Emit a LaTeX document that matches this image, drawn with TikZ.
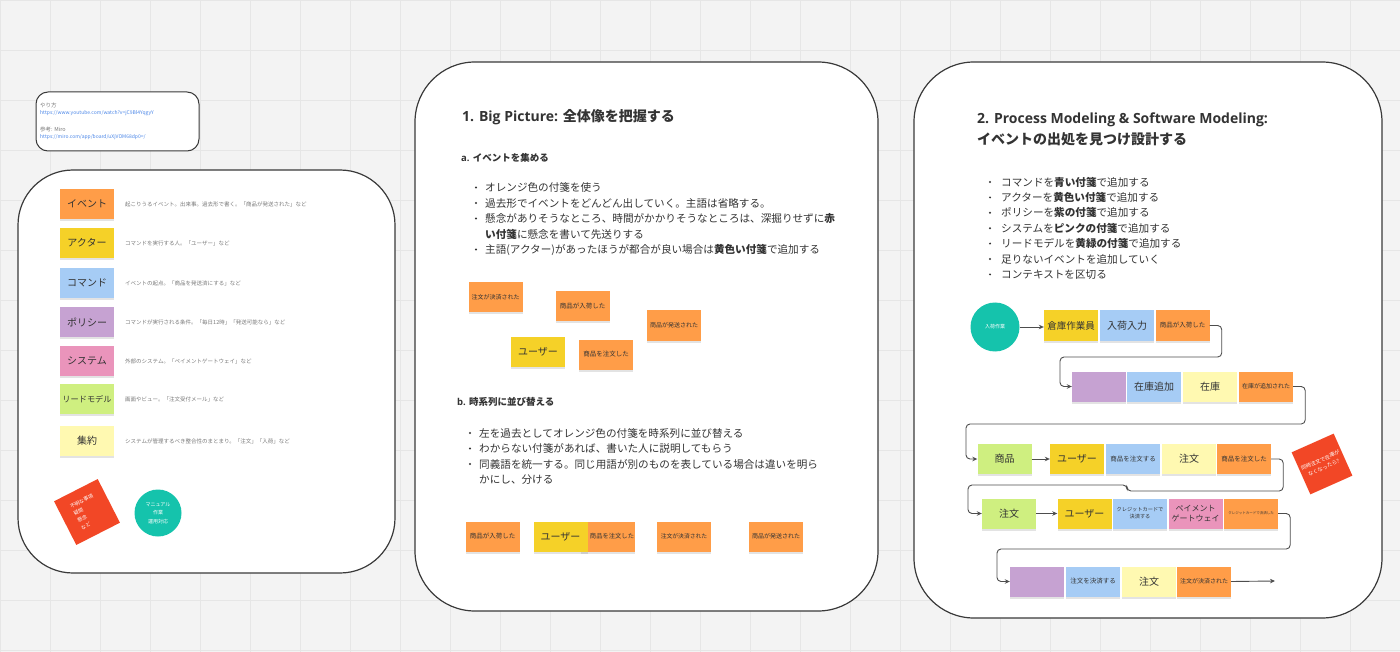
\documentclass[tikz,border=0pt]{standalone}
\usepackage{fontspec}
\setmainfont{Noto Sans CJK JP}
\newfontfamily\osfont{Open Sans}
\usetikzlibrary{arrows.meta,shadows}
\newcommand\fsz[2]{\fontsize{#1}{#2}\selectfont}
\definecolor{bgc}{HTML}{F3F3F3}
\definecolor{gridc}{HTML}{E6E6E6}
\definecolor{panelb}{HTML}{3A3A3A}
\definecolor{txt}{HTML}{333333}
\definecolor{desc}{HTML}{7A7A7A}
\definecolor{linkc}{HTML}{4A86E8}
\definecolor{sOrange}{HTML}{FF9D48}
\definecolor{sYellow}{HTML}{F5D128}
\definecolor{sBlue}{HTML}{A6CCF5}
\definecolor{sPurple}{HTML}{C6A2D2}
\definecolor{sPink}{HTML}{EA94BB}
\definecolor{sGreen}{HTML}{CFEF80}
\definecolor{sLight}{HTML}{FFF9B1}
\definecolor{sRed}{HTML}{F24726}
\definecolor{sTeal}{HTML}{15C3AC}
\definecolor{connc}{HTML}{4D4D4D}
\begin{document}
\begin{tikzpicture}[x=1pt,y=-1pt,
  panel/.style={draw=panelb, line width=1.2pt, fill=white},
  sticky/.style={minimum width=54pt, minimum height=30pt, inner sep=1pt, align=center, text=txt,
     drop shadow={shadow xshift=0pt, shadow yshift=-2pt, opacity=0.22}},
  ev/.style={sticky, fill=sOrange},
  act/.style={sticky, fill=sYellow},
  cmd/.style={sticky, fill=sBlue},
  pol/.style={sticky, fill=sPurple},
  sys/.style={sticky, fill=sPink},
  rm/.style={sticky, fill=sGreen},
  agg/.style={sticky, fill=sLight},
  lbl/.style={anchor=west, inner sep=0pt, text=txt},
  bul/.style={lbl, font=\fsz{10.6}{13}},
  dsc/.style={anchor=west, inner sep=0pt, text=desc, font=\fsz{5.5}{7}},
  flow/.style={draw=connc, line width=0.9pt, rounded corners=4pt, -{Stealth[length=5pt,width=4.5pt]}},
  dot/.style={fill=txt}
]
\useasboundingbox (0,0) rectangle (1400,652);
\fill[bgc] (0,0) rectangle (1400,652);
\foreach \gx in {0,50,...,1400} \draw[gridc, line width=0.6pt] (\gx,0) -- (\gx,652);
\foreach \gy in {0,50,...,650} \draw[gridc, line width=0.6pt] (0,\gy) -- (1400,\gy);

% ---------- top-left info box ----------
\draw[panel, line width=1pt, rounded corners=12pt] (36,92) rectangle (199,151);
\node[dsc] (iHow) at (40,105) {やり方};
\node[dsc, text=linkc, font=\fsz{5}{6}] (iL1) at (40,113) {https://www.youtube.com/watch?v=jC9Bl4YqgyY};
\node[dsc] (iRef) at (40,129) {参考: Miro};
\node[dsc, text=linkc, font=\fsz{5}{6}] (iL2) at (40,137) {https://miro.com/app/board/uXjVOM68dp0=/};

% ---------- legend panel ----------
\draw[panel, rounded corners=55pt] (18,170) rectangle (395,573);
\node[ev, font=\fsz{10}{12}] (lgEv) at (87,204) {イベント};
\node[dsc] (dEv) at (125,204) {起こりうるイベント。出来事。過去形で書く。「商品が発送された」など};
\node[act, font=\fsz{10}{12}] (lgAct) at (87,243) {アクター};
\node[dsc] (dAct) at (125,243) {コマンドを実行する人。「ユーザー」など};
\node[cmd, font=\fsz{10}{12}] (lgCmd) at (87,283) {コマンド};
\node[dsc] (dCmd) at (125,283) {イベントの起点。「商品を発送済にする」など};
\node[pol, font=\fsz{10}{12}] (lgPol) at (87,322) {ポリシー};
\node[dsc] (dPol) at (125,322) {コマンドが実行される条件。「毎日12時」「発送可能なら」など};
\node[sys, font=\fsz{10}{12}] (lgSys) at (87,361) {システム};
\node[dsc] (dSys) at (125,361) {外部のシステム。「ペイメントゲートウェイ」など};
\node[rm, font=\fsz{8.2}{10}] (lgRm) at (87,399) {リードモデル};
\node[dsc] (dRm) at (125,399) {画面やビュー。「注文受付メール」など};
\node[agg, font=\fsz{10}{12}] (lgAgg) at (87,441) {集約};
\node[dsc] (dAgg) at (125,441) {システムが管理するべき整合性のまとまり。「注文」「入荷」など};
\node[fill=sRed, minimum size=49pt, inner sep=1pt, rotate=27, text=white, font=\fsz{5}{8}, align=left] (lgRed) at (87,512) {不明な事項\\疑問\\懸念\\など};
\node[circle, fill=sTeal, minimum size=47pt, inner sep=0pt, text=white, font=\fsz{5}{8.5}, align=center] (lgMan) at (158,513) {マニュアル\\作業\\運用対応};

% ---------- middle panel ----------
\draw[panel, rounded corners=60pt] (415,62) rectangle (878,611);
\node[lbl, font=\fsz{14}{17}] (mTitle) at (462,117) {{\osfont\bfseries 1. Big Picture: }\textbf{全体像を把握する}};
\node[lbl, font=\fsz{9.5}{12}] (mHa) at (461,158) {{\osfont\bfseries a. }\textbf{イベントを集める}};
\fill[dot] (476,187.5) circle (1.1);
\node[bul] (mA1) at (485,187.5) {オレンジ色の付箋を使う};
\fill[dot] (476,203) circle (1.1);
\node[bul] (mA2) at (485,203) {過去形でイベントをどんどん出していく。主語は省略する。};
\fill[dot] (476,218.5) circle (1.1);
\node[bul] (mA3) at (485,218.5) {懸念がありそうなところ、時間がかかりそうなところは、深掘りせずに\textbf{赤}};
\node[bul] (mA3b) at (485,234) {\textbf{い付箋}に懸念を書いて先送りする};
\fill[dot] (476,249.5) circle (1.1);
\node[bul] (mA4) at (485,249.5) {主語(アクター)があったほうが都合が良い場合は\textbf{黄色い付箋}で追加する};

\node[ev, font=\fsz{6}{7}] (mS1) at (495.5,297.5) {注文が決済された};
\node[ev, font=\fsz{6.5}{8}] (mS2) at (582.5,306) {商品が入荷した};
\node[ev, font=\fsz{6}{7}] (mS3) at (674,325.5) {商品が発送された};
\node[act, font=\fsz{10}{12}] (mS4) at (538,352) {ユーザー};
\node[ev, font=\fsz{6.5}{8}] (mS5) at (606,354.5) {商品を注文した};

\node[lbl, font=\fsz{9.5}{12}] (mHb) at (457,402) {{\osfont\bfseries b. }\textbf{時系列に並び替える}};
\fill[dot] (470,433) circle (1.1);
\node[bul] (mB1l) at (479,433) {左を過去としてオレンジ色の付箋を時系列に並び替える};
\fill[dot] (470,448.5) circle (1.1);
\node[bul] (mB2l) at (479,448.5) {わからない付箋があれば、書いた人に説明してもらう};
\fill[dot] (470,464) circle (1.1);
\node[bul] (mB3l) at (479,464) {同義語を統一する。同じ用語が別のものを表している場合は違いを明ら};
\node[bul] (mB3b) at (479,479.5) {かにし、分ける};

\node[ev, font=\fsz{6.5}{8}] (mB1) at (492.5,536.5) {商品が入荷した};
\node[ev, font=\fsz{6.3}{8}] (mB3) at (608,536.5) {\hspace*{8pt}商品を注文した};
\node[act, font=\fsz{10}{12}] (mB2) at (560.5,536.5) {ユーザー};
\node[ev, font=\fsz{5.8}{7}] (mB4) at (684,536.5) {注文が決済された};
\node[ev, font=\fsz{6}{7}] (mB5) at (776,536.5) {商品が発送された};

% ---------- right panel ----------
\draw[panel, rounded corners=60pt] (914,62) rectangle (1382,618);
\node[lbl, font=\fsz{14}{17}] (rTitle1) at (977,119.5) {\osfont\bfseries 2. Process Modeling \& Software Modeling:};
\node[lbl, font=\fsz{14}{17}] (rTitle2) at (977,139) {\textbf{イベントの出処を見つけ設計する}};
\fill[dot] (990,182) circle (1.1);
\node[bul] (rL1) at (1001,182) {コマンドを\textbf{青い付箋}で追加する};
\fill[dot] (990,197.4) circle (1.1);
\node[bul] (rL2) at (1001,197.4) {アクターを\textbf{黄色い付箋}で追加する};
\fill[dot] (990,212.8) circle (1.1);
\node[bul] (rL3) at (1001,212.8) {ポリシーを\textbf{紫の付箋}で追加する};
\fill[dot] (990,228.2) circle (1.1);
\node[bul] (rL4) at (1001,228.2) {システムを\textbf{ピンクの付箋}で追加する};
\fill[dot] (990,243.6) circle (1.1);
\node[bul] (rL5) at (1001,243.6) {リードモデルを\textbf{黄緑の付箋}で追加する};
\fill[dot] (990,259) circle (1.1);
\node[bul] (rL6) at (1001,259) {足りないイベントを追加していく};
\fill[dot] (990,274.4) circle (1.1);
\node[bul] (rL7) at (1001,274.4) {コンテキストを区切る};

\node[circle, fill=sTeal, minimum size=49pt, inner sep=0pt, text=white, font=\fsz{5}{6}] (rStart) at (995,327) {入荷作業};
% row 1
\node[act, font=\fsz{9.5}{11}] (rA) at (1071,325.5) {倉庫作業員};
\node[cmd, font=\fsz{10}{12}] (rB) at (1127,325.5) {入荷入力};
\node[ev, font=\fsz{6.5}{8}] (rC) at (1182.5,325.5) {商品が入荷した};
% row 2
\node[pol] (rD) at (1099,386.5) {};
\node[cmd, font=\fsz{10}{12}] (rE) at (1154,386.5) {在庫追加};
\node[agg, font=\fsz{10}{12}] (rF) at (1210,386.5) {在庫};
\node[ev, font=\fsz{6}{7}] (rG) at (1266,386.5) {在庫が追加された};
% row 3
\node[rm, font=\fsz{10}{12}] (rH) at (1004.5,459) {商品};
\node[act, font=\fsz{10}{12}] (rI) at (1077,459) {ユーザー};
\node[cmd, font=\fsz{6.5}{8}] (rJ) at (1133,459) {商品を注文する};
\node[agg, font=\fsz{10}{12}] (rK) at (1189,459) {注文};
\node[ev, font=\fsz{6.5}{8}] (rL) at (1244,459) {商品を注文した};
% row 4
\node[rm, font=\fsz{10}{12}] (rM) at (1009,513.5) {注文};
\node[act, font=\fsz{10}{12}] (rN) at (1084.5,513.5) {ユーザー};
\node[cmd, font=\fsz{5.2}{7}] (rO) at (1140,513.5) {クレジットカードで\\決済する};
\node[sys, font=\fsz{8}{9.5}] (rP) at (1195.5,513.5) {ペイメント\\ゲートウェイ};
\node[ev, font=\fsz{3.5}{5}] (rQ) at (1251,513.5) {クレジットカードで決済した};
% row 5
\node[pol] (rR) at (1037,581.5) {};
\node[cmd, font=\fsz{6.5}{8}] (rS) at (1093,581.5) {注文を決済する};
\node[agg, font=\fsz{10}{12}] (rT) at (1149,581.5) {注文};
\node[ev, font=\fsz{6}{7}] (rU) at (1204,581.5) {注文が決済された};
\coordinate (rEnd) at (1275,581);

\node[fill=sRed, minimum size=46pt, inner sep=1pt, rotate=24, text=white, font=\fsz{5.2}{8}, align=center] (rRed) at (1322,464) {同時注文で在庫が\\なくなったら?};

% connectors
\draw[flow] (rStart.east) -- (rStart.east -| rA.west);
\draw[flow] (rC.east) -- ++(12,0) |- (1060,357) |- (rD.west);
\draw[flow] (rG.east) -- ++(12,0) |- (966,424) |- (rH.west);
\draw[flow] (rH.east) -- (rI.west);
\draw[flow] (rL.east) -- ++(12,0) |- (1127,491) -- (1127,485) -- (968,485) |- (rM.west);
\draw[flow] (rM.east) -- (rN.west);
\draw[flow] (rQ.east) -- ++(12,0) |- (997,549) |- (rR.west);
\draw[flow] (rU.east) -- (rEnd);
\end{tikzpicture}
\end{document}
